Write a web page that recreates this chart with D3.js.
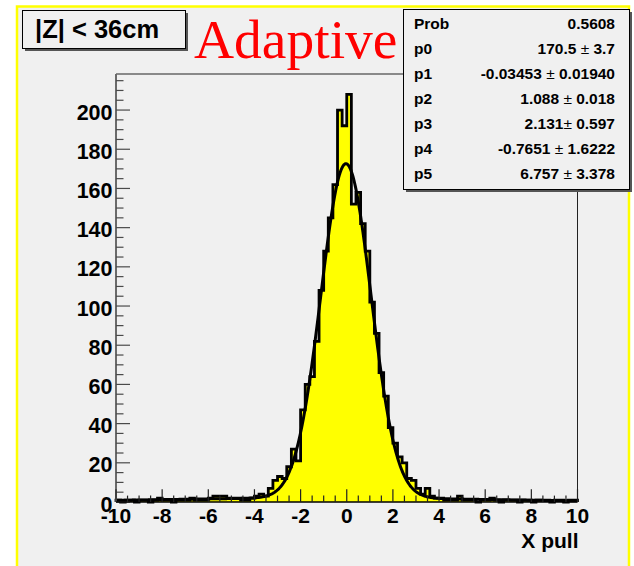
<!DOCTYPE html>
<html>
<head>
<meta charset="utf-8">
<script src="https://cdn.jsdelivr.net/npm/d3@7/dist/d3.min.js"></script>
<style>
  html, body { margin: 0; padding: 0; background: #ffffff; }
  svg { display: block; }
  .lbl { font-family: "Liberation Sans", Arial, Helvetica, sans-serif; font-weight: bold; fill: #000; }
</style>
</head>
<body>
<svg id="chart" width="634" height="566"></svg>
<script>
// Histogram of X pulls: 100 bins of width 0.2 on [-10, 10]
const histRange = [-10, 10];
const counts = [
  1, 0, 1, 1, 0, 1, 1, 0, 1, 2,
  1, 1, 0, 1, 1, 1, 2, 1, 1, 1,
  2, 3, 3, 3, 2, 2, 2, 1, 1, 2,
  3, 4, 3, 7, 11, 13, 12, 18, 27, 21,
  47, 60, 64, 82, 108, 128, 145, 162, 200, 192,
  208, 152, 158, 142, 128, 102, 86, 66, 54, 38,
  30, 23, 20, 12, 11, 7, 4, 7, 3, 2,
  2, 1, 1, 1, 3, 1, 1, 1, 0, 1,
  1, 2, 1, 0, 1, 1, 1, 0, 1, 1,
  0, 1, 1, 1, 0, 1, 1, 0, 1, 1
];

// Fit: narrow gaussian (p0,p1,p2) + broad gaussian (p3,p4,p5)
const fitParams = [170.5, -0.03453, 1.088, 2.131, -0.7651, 6.757];

// Statistics box rows
const statNames = ["Prob", "p0", "p1", "p2", "p3", "p4", "p5"];
const statTexts = ["0.5608", "170.5 ± 3.7", "-0.03453 ± 0.01940", "1.088 ± 0.018",
                   "2.131± 0.597", "-0.7651 ± 1.6222", "6.757 ± 3.378"];

// Axis ticks and labels
const xTickValues = [-10, -8, -6, -4, -2, 0, 2, 4, 6, 8, 10];
const yTickValues = [0, 20, 40, 60, 80, 100, 120, 140, 160, 180, 200];
const xAxisTitle = "X pull";
const cutText = "|Z| < 36cm";
const methodText = "Adaptive";

const svg = d3.select("#chart");

// frame geometry
const fL = 116, fR = 577.5, fT = 74, fB = 502;
const yMax = d3.max(counts) * 1.05;

const x = d3.scaleLinear().domain(histRange).range([fL, fR]);
const y = d3.scaleLinear().domain([0, yMax]).range([fB, fT]);

// canvas
svg.append("rect").attr("x", 17).attr("y", 6.5).attr("width", 612).attr("height", 580)
  .attr("fill", "#f0f0f0").attr("stroke", "#ffff00").attr("stroke-width", 2.5);

// frame top and right edges
svg.append("path")
  .attr("d", `M${fL},${fT}H${fR}V${fB}`)
  .attr("fill", "none").attr("stroke", "#222").attr("stroke-width", 1);

// histogram
const nb = counts.length;
const bw = (histRange[1] - histRange[0]) / nb;
let d = `M${x(histRange[0])},${y(0)}`;
counts.forEach((c, i) => {
  d += `V${y(c)}H${x(histRange[0] + (i + 1) * bw)}`;
});
d += `V${y(0)}`;

svg.append("path").attr("d", d + "Z").attr("fill", "#ffff00").attr("stroke", "none");
svg.append("path").attr("d", d).attr("fill", "none")
  .attr("stroke", "#000").attr("stroke-width", 2.8).attr("stroke-linejoin", "miter");

// fit function
const [p0, p1, p2, p3, p4, p5] = fitParams;
const fitFn = v => p0 * Math.exp(-0.5 * ((v - p1) / p2) ** 2) + p3 * Math.exp(-0.5 * ((v - p4) / p5) ** 2);
const fitPts = d3.range(0, 801).map(i => histRange[0] + i * (histRange[1] - histRange[0]) / 800);
svg.append("path")
  .datum(fitPts)
  .attr("d", d3.line().x(v => x(v)).y(v => y(fitFn(v))))
  .attr("fill", "none").attr("stroke", "#000").attr("stroke-width", 3);

// y axis
svg.append("line").attr("x1", fL).attr("x2", fL).attr("y1", fT).attr("y2", fB)
  .attr("stroke", "#6a6a6a").attr("stroke-width", 2);
const yMinor = d3.range(0, yMax, 5);
svg.append("g").selectAll("line").data(yMinor).join("line")
  .attr("x1", fL).attr("x2", v => fL + (v % 20 === 0 ? 14 : 7.5))
  .attr("y1", v => y(v)).attr("y2", v => y(v))
  .attr("stroke", "#4a4a4a").attr("stroke-width", 1.2);
svg.append("g").selectAll("text").data(yTickValues).join("text")
  .attr("class", "lbl").attr("x", 112.5).attr("y", v => y(v) + (v === 0 ? 10 : 9.5))
  .attr("text-anchor", "end").attr("font-size", 21.5).text(v => v);

// x axis
svg.append("line").attr("x1", fL).attr("x2", fR).attr("y1", fB).attr("y2", fB)
  .attr("stroke", "#000").attr("stroke-width", 1.5);
const xMinor = d3.range(-20, 21).map(i => i * 0.5);
svg.append("g").selectAll("line").data(xMinor).join("line")
  .attr("x1", v => x(v)).attr("x2", v => x(v))
  .attr("y1", fB).attr("y2", v => fB - (Math.abs(v % 2) < 1e-9 ? 12.8 : 6.4))
  .attr("stroke", "#222").attr("stroke-width", 1.2);
svg.append("g").selectAll("text").data(xTickValues).join("text")
  .attr("class", "lbl").attr("x", v => x(v)).attr("y", 522.5)
  .attr("text-anchor", "middle").attr("font-size", 21).text(v => v);

svg.append("text").attr("class", "lbl").attr("x", fR + 1).attr("y", 547.5)
  .attr("text-anchor", "end").attr("font-size", 21).text(xAxisTitle);

// cut label box
svg.append("rect").attr("x", 25).attr("y", 13).attr("width", 163).attr("height", 38).attr("fill", "#555");
svg.append("rect").attr("x", 22.5).attr("y", 10.5).attr("width", 163).attr("height", 38)
  .attr("fill", "#f0f0f0").attr("stroke", "#000").attr("stroke-width", 1);
svg.append("text").attr("class", "lbl").attr("x", 35).attr("y", 38)
  .attr("font-size", 25.5).text(cutText);

// method label
svg.append("text").attr("x", 194).attr("y", 57.5)
  .attr("font-family", "'Liberation Serif', 'Times New Roman', serif")
  .attr("font-size", 55.5).attr("fill", "#ff0000").text(methodText);

// statistics box
svg.append("rect").attr("x", 406).attr("y", 12).attr("width", 226).attr("height", 180).attr("fill", "#555");
svg.append("rect").attr("x", 403.5).attr("y", 9.5).attr("width", 226).attr("height", 180)
  .attr("fill", "#f0f0f0").attr("stroke", "#000").attr("stroke-width", 1);
statNames.forEach((name, i) => {
  const by = 28.5 + i * 25.1;
  svg.append("text").attr("class", "lbl").attr("x", 414).attr("y", by)
    .attr("font-size", 15.5).text(name);
  const t = svg.append("text").attr("class", "lbl").attr("x", 615).attr("y", by)
    .attr("text-anchor", "end").attr("font-size", 15.5);
  const parts = statTexts[i].split("±");
  t.append("tspan").text(parts[0]);
  if (parts.length > 1) {
    t.append("tspan").attr("font-weight", "normal").text("±");
    t.append("tspan").text(parts[1]);
  }
});
</script>
</body>
</html>
